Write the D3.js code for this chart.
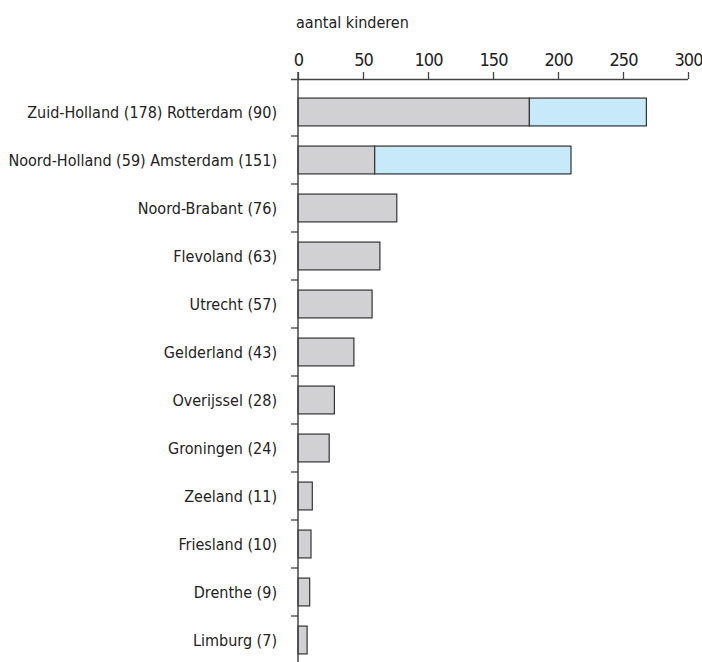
<!DOCTYPE html>
<html>
<head>
<meta charset="utf-8">
<script src="https://cdn.jsdelivr.net/npm/d3@7"></script>
<style>
  body { margin: 0; background: #fff; }
  svg text { font-family: "Liberation Sans Narrow", "DejaVu Sans Condensed", sans-serif; fill: #222; }
</style>
</head>
<body>
<div id="chart"></div>
<script>
var provincies = ["Zuid-Holland", "Noord-Holland", "Noord-Brabant", "Flevoland", "Utrecht",
  "Gelderland", "Overijssel", "Groningen", "Zeeland", "Friesland", "Drenthe", "Limburg"];
var steden = ["Rotterdam", "Amsterdam", "", "", "", "", "", "", "", "", "", ""];
var provincieWaarden = [178, 59, 76, 63, 57, 43, 28, 24, 11, 10, 9, 7];
var stadWaarden = [90, 151, 0, 0, 0, 0, 0, 0, 0, 0, 0, 0];
var xTicks = [0, 50, 100, 150, 200, 250, 300];

var width = 702, height = 662;

var svg = d3.select("#chart").append("svg")
  .attr("width", width)
  .attr("height", height);

var x = d3.scaleLinear().domain([0, 300]).range([298, 688]);
var y = d3.scaleBand().domain(provincies).range([88, 664]).paddingInner(0.42).paddingOuter(0.21);

function labelText(i) {
  var t = provincies[i] + " (" + provincieWaarden[i] + ")";
  if (steden[i]) t += " " + steden[i] + " (" + stadWaarden[i] + ")";
  return t;
}

// bars: provincie deel
svg.selectAll("rect.prov")
  .data(provincies)
  .enter().append("rect")
  .attr("class", "prov")
  .attr("x", x(0))
  .attr("y", function(d) { return y(d); })
  .attr("width", function(d, i) { return x(provincieWaarden[i]) - x(0); })
  .attr("height", y.bandwidth())
  .attr("fill", "#d1d1d3")
  .attr("stroke", "#333")
  .attr("stroke-width", 1.2);

// bars: stad deel
svg.selectAll("rect.stad")
  .data(provincies.filter(function(d, i) { return stadWaarden[i] > 0; }))
  .enter().append("rect")
  .attr("class", "stad")
  .attr("x", function(d) { var i = provincies.indexOf(d); return x(provincieWaarden[i]); })
  .attr("y", function(d) { return y(d); })
  .attr("width", function(d) { var i = provincies.indexOf(d); return x(stadWaarden[i]) - x(0); })
  .attr("height", y.bandwidth())
  .attr("fill", "#c7e9f9")
  .attr("stroke", "#333")
  .attr("stroke-width", 1.2);

// top axis
var xAxis = svg.append("g")
  .attr("transform", "translate(0,79)")
  .call(d3.axisTop(x).tickValues(xTicks).tickSize(7).tickPadding(6).tickSizeOuter(0));
xAxis.select(".domain").attr("d", "M291,0.5H688").attr("stroke", "#444").attr("stroke-width", 1.3);
xAxis.selectAll(".tick line").attr("stroke", "#444").attr("stroke-width", 1.3);
xAxis.selectAll(".tick text")
  .style("font-size", "18px")
  .style("letter-spacing", "-1px")
  .attr("fill", "#222");

// vertical axis line + category ticks
svg.append("line")
  .attr("x1", x(0)).attr("x2", x(0))
  .attr("y1", 72).attr("y2", height)
  .attr("stroke", "#444").attr("stroke-width", 1.5);

var step = y.step();
svg.selectAll("line.ytick")
  .data(provincies.slice(1))
  .enter().append("line")
  .attr("class", "ytick")
  .attr("x1", x(0) - 7).attr("x2", x(0))
  .attr("y1", function(d) { return y(d) - (step - y.bandwidth()) / 2; })
  .attr("y2", function(d) { return y(d) - (step - y.bandwidth()) / 2; })
  .attr("stroke", "#444").attr("stroke-width", 1.3);

// labels
svg.selectAll("text.cat")
  .data(provincies)
  .enter().append("text")
  .attr("class", "cat")
  .attr("x", 277)
  .attr("y", function(d) { return y(d) + y.bandwidth() / 2; })
  .attr("dy", "0.35em")
  .attr("text-anchor", "end")
  .style("font-size", "16px")
  .text(function(d, i) { return labelText(i); });

svg.append("text")
  .attr("x", 296)
  .attr("y", 28)
  .style("font-size", "16px")
  .text("aantal kinderen");
</script>
</body>
</html>
